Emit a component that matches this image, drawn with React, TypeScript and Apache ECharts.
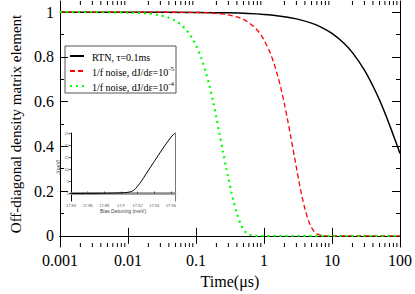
import React, { useEffect, useRef } from "react";
import * as echarts from "echarts";

// ---------- main panel data ----------
const decadeLabels = ["0.001", "0.01", "0.1", "1", "10", "100"];
const yMajorTicks = [0, 0.2, 0.4, 0.6, 0.8, 1];
const yMinorTicks = [0.1, 0.3, 0.5, 0.7, 0.9];
const xMinorTicks = [
  0.002, 0.003, 0.004, 0.005, 0.006, 0.007, 0.008, 0.009,
  0.02, 0.03, 0.04, 0.05, 0.06, 0.07, 0.08, 0.09,
  0.2, 0.3, 0.4, 0.5, 0.6, 0.7, 0.8, 0.9,
  2, 3, 4, 5, 6, 7, 8, 9,
  20, 30, 40, 50, 60, 70, 80, 90,
];

const seriesNames = ["RTN, τ=0.1ms", "1/f noise, dJ/dε=10^-5", "1/f noise, dJ/dε=10^-4"];

const rtnTime = [0.001, 0.01, 0.1, 0.3, 1, 2, 3, 5, 7, 10, 15, 20, 30, 40, 50, 60, 70, 80, 90, 100];
const rtnValue = [1, 1, 0.999, 0.997, 0.99, 0.98, 0.97, 0.951, 0.932, 0.905, 0.861, 0.819, 0.741, 0.67, 0.607, 0.549, 0.497, 0.449, 0.407, 0.368];

const red5Time = [0.001, 0.01, 0.1, 0.2, 0.3, 0.4, 0.5, 0.6, 0.7, 0.8, 0.9, 1, 1.2, 1.4, 1.6, 1.8, 2, 2.2, 2.5, 2.8, 3, 3.3, 3.6, 4, 4.5, 5, 5.5, 6, 7, 8, 10, 30, 100];
const red5Value = [1, 1, 0.999, 0.995, 0.988, 0.979, 0.968, 0.953, 0.937, 0.919, 0.899, 0.876, 0.827, 0.772, 0.713, 0.652, 0.589, 0.527, 0.437, 0.355, 0.304, 0.237, 0.18, 0.121, 0.069, 0.037, 0.018, 0.009, 0.002, 0, 0, 0, 0];

const green4Time = [0.001, 0.003, 0.01, 0.02, 0.03, 0.04, 0.05, 0.06, 0.07, 0.08, 0.09, 0.1, 0.12, 0.14, 0.16, 0.18, 0.2, 0.22, 0.25, 0.28, 0.3, 0.33, 0.36, 0.4, 0.45, 0.5, 0.55, 0.6, 0.7, 0.8, 1, 3, 10, 30, 100];
const green4Value = [1, 1, 0.998, 0.994, 0.986, 0.975, 0.961, 0.944, 0.925, 0.903, 0.879, 0.852, 0.794, 0.731, 0.664, 0.596, 0.527, 0.463, 0.375, 0.3, 0.258, 0.2, 0.15, 0.1, 0.055, 0.028, 0.013, 0.006, 0.001, 0, 0, 0, 0, 0, 0];

// ---------- inset data ----------
const insetXTicks = [17.84, 17.86, 17.88, 17.9, 17.92, 17.94, 17.96];
const insetYTicks = [0, 5, 10, 15, 20, 25];
const insetX = [17.84, 17.86, 17.88, 17.9, 17.905, 17.91, 17.915, 17.92, 17.925, 17.93, 17.94, 17.95, 17.96, 17.965];
const insetY = [0, 0.03, 0.1, 0.25, 0.35, 0.6, 1.2, 3.0, 5.3, 8.0, 13.2, 18.4, 23.2, 25];
const insetBaseX = [17.84, 17.875];
const insetBaseY = [0, 0];

const Y_MIN = -0.05;
const Y_MAX = 1.05;
const SERIF = "Liberation Serif";
const SANS = "Liberation Sans";

const zip = (a: number[], b: number[]) => a.map((v, i) => [v, b[i]]);

export default function App() {
  const ref = useRef<HTMLDivElement>(null);
  useEffect(() => {
    if (!ref.current) return;
    const chart = echarts.init(ref.current, undefined, { renderer: "svg" });
    const axisLineBlack = { show: true, lineStyle: { color: "#000", width: 1 } };
    const option: any = {
      animation: false,
      backgroundColor: "#fff",
      grid: [
        { left: 47, top: 1, right: 13, bottom: 45 },
        { left: 71, top: 133, width: 104, height: 68 },
      ],
      legend: {
        data: seriesNames,
        orient: "vertical",
        left: 69,
        top: 52,
        itemWidth: 14,
        itemHeight: 10,
        itemGap: 3,
        padding: 0,
        itemStyle: { opacity: 0, borderWidth: 0 },
        formatter: (name: string) => {
          const i = name.indexOf("^");
          return i >= 0 ? `{b|${name.slice(0, i)}}{sup|${name.slice(i + 1)}}` : `{b|${name}}`;
        },
        textStyle: {
          fontFamily: SERIF,
          fontSize: 10,
          color: "#000",
          rich: {
            b: { fontFamily: SERIF, fontSize: 10, color: "#000", verticalAlign: "bottom", lineHeight: 12, padding: [0, 0, 0, 3] },
            sup: { fontFamily: SERIF, fontSize: 7, color: "#000", verticalAlign: "bottom", lineHeight: 12, padding: [0, 0, 5, 0] },
          },
        },
      },
      graphic: [
        {
          type: "rect",
          z: -1,
          shape: { x: 65, y: 46, width: 111, height: 47 },
          style: { fill: "#fff", stroke: "#555", lineWidth: 1 },
        },
      ],
      xAxis: [
        {
          type: "log",
          gridIndex: 0,
          logBase: 10,
          min: 0.001,
          max: 100,
          position: "bottom",
          axisLine: axisLineBlack,
          axisTick: { show: true, inside: true, length: 8, lineStyle: { color: "#000" } },
          axisLabel: {
            fontFamily: SERIF,
            fontSize: 16,
            color: "#000",
            margin: 5,
            formatter: (v: number) => decadeLabels[Math.round(Math.log10(v)) + 3],
          },
          splitLine: { show: false },
          name: "Time(μs)",
          nameLocation: "middle",
          nameGap: 26,
          nameTextStyle: { fontFamily: SERIF, fontSize: 16, color: "#000" },
        },
        {
          type: "log",
          gridIndex: 0,
          logBase: 10,
          min: 0.001,
          max: 100,
          position: "top",
          axisLine: axisLineBlack,
          axisTick: { show: true, inside: true, length: 8, lineStyle: { color: "#000" } },
          axisLabel: { show: false },
          splitLine: { show: false },
        },
        {
          type: "value",
          gridIndex: 1,
          min: 17.84,
          max: 17.965,
          position: "bottom",
          axisLine: axisLineBlack,
          axisTick: { show: true, inside: true, length: 2, customValues: insetXTicks, lineStyle: { color: "#000", width: 0.6 } },
          axisLabel: { customValues: insetXTicks, fontFamily: SANS, fontSize: 4, color: "#555", margin: 2 },
          splitLine: { show: false },
          name: "Bias Detuning (meV)",
          nameLocation: "middle",
          nameGap: 7,
          nameTextStyle: { fontFamily: SANS, fontSize: 5, color: "#444" },
        },
        {
          type: "value",
          gridIndex: 1,
          min: 17.84,
          max: 17.965,
          position: "top",
          axisLine: { show: true, lineStyle: { color: "#8c8c8c", width: 2.5 } },
          axisTick: { show: false },
          axisLabel: { show: false },
          splitLine: { show: false },
        },
      ],
      yAxis: [
        {
          type: "value",
          gridIndex: 0,
          min: Y_MIN,
          max: Y_MAX,
          position: "left",
          axisLine: axisLineBlack,
          axisTick: { show: true, inside: true, length: 8, customValues: yMajorTicks, lineStyle: { color: "#000" } },
          axisLabel: { customValues: yMajorTicks, fontFamily: SERIF, fontSize: 16, color: "#000", margin: 6 },
          splitLine: { show: false },
          name: "Off-diagonal density matrix element",
          nameLocation: "middle",
          nameGap: 29,
          nameTextStyle: { fontFamily: SERIF, fontSize: 15, color: "#000" },
        },
        {
          type: "value",
          gridIndex: 0,
          min: Y_MIN,
          max: Y_MAX,
          position: "left",
          axisLine: { show: false },
          axisTick: { show: true, inside: true, length: 4, customValues: yMinorTicks, lineStyle: { color: "#000" } },
          axisLabel: { show: false },
          splitLine: { show: false },
        },
        {
          type: "value",
          gridIndex: 0,
          min: Y_MIN,
          max: Y_MAX,
          position: "right",
          axisLine: axisLineBlack,
          axisTick: { show: true, inside: true, length: 8, customValues: yMajorTicks, lineStyle: { color: "#000" } },
          axisLabel: { show: false },
          splitLine: { show: false },
        },
        {
          type: "value",
          gridIndex: 0,
          min: Y_MIN,
          max: Y_MAX,
          position: "right",
          axisLine: { show: false },
          axisTick: { show: true, inside: true, length: 4, customValues: yMinorTicks, lineStyle: { color: "#000" } },
          axisLabel: { show: false },
          splitLine: { show: false },
        },
        {
          type: "value",
          gridIndex: 1,
          min: -3.1,
          max: 25,
          position: "left",
          axisLine: axisLineBlack,
          axisTick: { show: true, inside: false, length: 2, customValues: insetYTicks, lineStyle: { color: "#000", width: 0.6 } },
          axisLabel: { customValues: insetYTicks, fontFamily: SANS, fontSize: 4, color: "#555", margin: 2 },
          splitLine: { show: false },
          name: "J(μeV)",
          nameLocation: "middle",
          nameGap: 7,
          nameTextStyle: { fontFamily: SANS, fontSize: 5, color: "#444" },
        },
        {
          type: "value",
          gridIndex: 1,
          min: -3.1,
          max: 25,
          position: "right",
          axisLine: { show: true, lineStyle: { color: "#777", width: 1 } },
          axisTick: { show: false },
          axisLabel: { show: false },
          splitLine: { show: false },
        },
      ],
      series: [
        {
          name: seriesNames[0],
          type: "line",
          xAxisIndex: 0,
          yAxisIndex: 0,
          data: zip(rtnTime, rtnValue),
          symbol: "none",
          smooth: 0.3,
          lineStyle: { color: "#000", width: 1.5 },
          itemStyle: { color: "#000" },
        },
        {
          name: seriesNames[1],
          type: "line",
          xAxisIndex: 0,
          yAxisIndex: 0,
          data: zip(red5Time, red5Value),
          symbol: "none",
          smooth: 0.3,
          lineStyle: { color: "#ff0000", width: 1.3, type: [5, 3] },
          itemStyle: { color: "#ff0000" },
        },
        {
          name: seriesNames[2],
          type: "line",
          xAxisIndex: 0,
          yAxisIndex: 0,
          data: zip(green4Time, green4Value),
          symbol: "none",
          smooth: 0.3,
          lineStyle: { color: "#00ff00", width: 2.2, type: [2, 4] },
          itemStyle: { color: "#00ff00" },
        },
        {
          name: "minorTicks",
          type: "custom",
          xAxisIndex: 0,
          yAxisIndex: 0,
          silent: true,
          data: xMinorTicks.map((v) => [v, 0]),
          renderItem: (_params: any, api: any) => {
            const x = api.value(0);
            const pb = api.coord([x, Y_MIN]);
            const pt = api.coord([x, Y_MAX]);
            const st = { stroke: "#000", lineWidth: 1 };
            return {
              type: "group",
              children: [
                { type: "line", shape: { x1: pb[0], y1: pb[1], x2: pb[0], y2: pb[1] - 4 }, style: st },
                { type: "line", shape: { x1: pt[0], y1: pt[1], x2: pt[0], y2: pt[1] + 4 }, style: st },
              ],
            };
          },
        },
        {
          name: "insetBase",
          type: "line",
          xAxisIndex: 2,
          yAxisIndex: 4,
          data: zip(insetBaseX, insetBaseY),
          symbol: "none",
          lineStyle: { color: "#8c8c8c", width: 2.2 },
        },
        {
          name: "insetJ",
          type: "line",
          xAxisIndex: 2,
          yAxisIndex: 4,
          data: zip(insetX, insetY),
          symbol: "none",
          smooth: 0.3,
          lineStyle: { color: "#000", width: 1 },
        },
      ],
    };
    chart.setOption(option);
    return () => chart.dispose();
  }, []);
  return <div ref={ref} style={{ position: "fixed", left: 0, top: 0, width: 415, height: 294 }} />;
}
